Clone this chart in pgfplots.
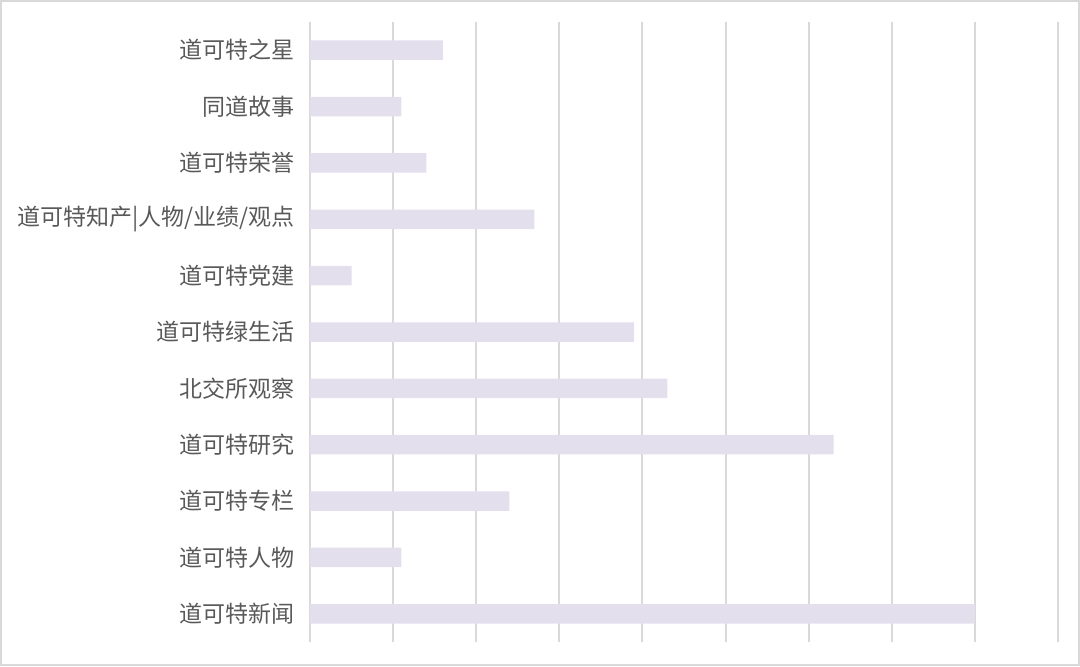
\documentclass[border=0pt]{standalone}
\usepackage{pgfplots}
\pgfplotsset{compat=1.18}
\usepackage{fontspec}
\newfontfamily\cjk{Noto Sans CJK SC}
\definecolor{barfill}{HTML}{E4DFEC}
\definecolor{gridgray}{HTML}{D9D9D9}
\definecolor{labelgray}{HTML}{595959}

\pgfplotstableread{
y val
0 80
1 11
2 24
3 63
4 43
5 39
6 5
7 27
8 14
9 11
10 16
}\counts

\begin{document}
\begin{tikzpicture}
\begin{axis}[
    name=ax,
    scale only axis,
    width=374bp, height=310bp,
    xbar, bar width=9.75bp,
    xmin=0, xmax=90,
    ymin=-0.5, ymax=10.5,
    xtick={0,10,...,90}, xticklabels={},
    ytick={0,...,10},
    yticklabels={道可特新闻,道可特人物,道可特专栏,道可特研究,北交所观察,道可特绿生活,道可特党建,道可特知产|人物/业绩/观点,道可特荣誉,同道故事,道可特之星},
    yticklabel style={font=\cjk\fontsize{11.55}{13}\selectfont, text=labelgray},
    xmajorgrids,
    grid style={gridgray, line width=1bp},
    axis line style={draw=none},
    major tick style={draw=none},
]
\addplot[fill=barfill, draw=none] table[x=val, y=y] {\counts};
\end{axis}
\draw[gridgray, line width=1bp]
    ([xshift=-154.5bp, yshift=10.5bp]ax.north west) rectangle
    ([xshift=10.5bp, yshift=-11.5bp]ax.south east);
\end{tikzpicture}
\end{document}
